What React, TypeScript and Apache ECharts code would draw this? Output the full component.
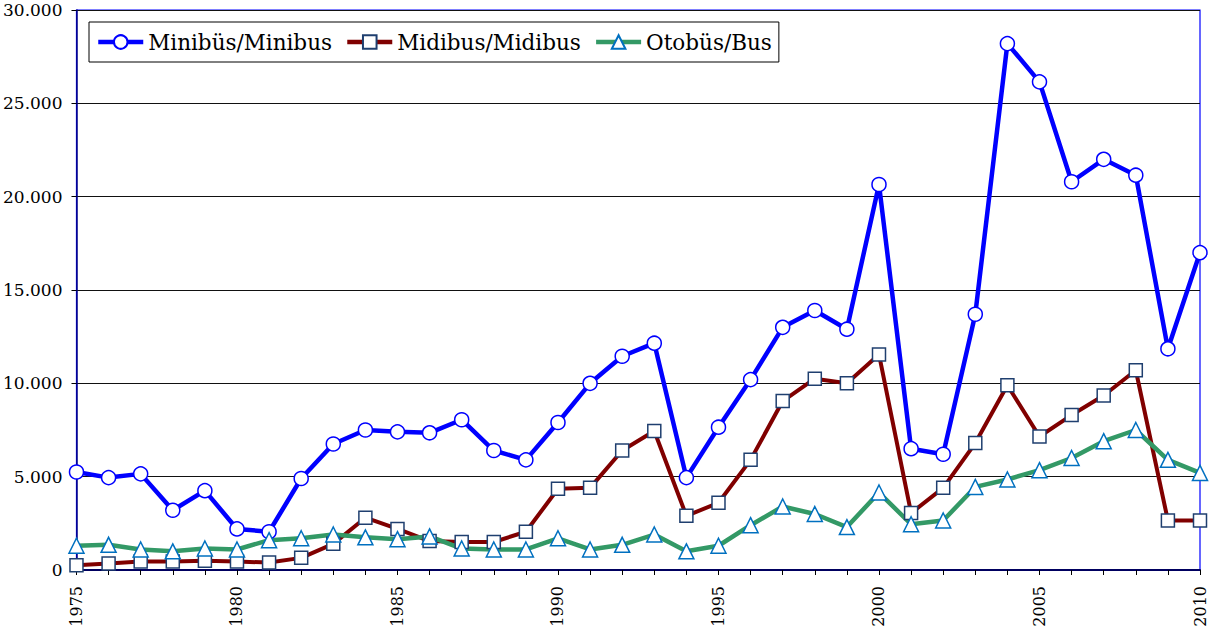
import React, { useEffect, useRef } from "react";
import * as echarts from "echarts";

const years = [
  "1975","1976","1977","1978","1979","1980","1981","1982","1983","1984",
  "1985","1986","1987","1988","1989","1990","1991","1992","1993","1994",
  "1995","1996","1997","1998","1999","2000","2001","2002","2003","2004",
  "2005","2006","2007","2008","2009","2010",
];

const minibus = [
  5250, 4950, 5150, 3200, 4250, 2200, 2050, 4900, 6750, 7500,
  7400, 7350, 8050, 6400, 5900, 7900, 10000, 11450, 12150, 4950,
  7650, 10200, 13000, 13900, 12900, 20650, 6500, 6200, 13700, 28200,
  26150, 20800, 22000, 21150, 11850, 17000,
];

const midibus = [
  250, 350, 450, 450, 500, 450, 400, 650, 1400, 2800,
  2200, 1550, 1500, 1500, 2050, 4350, 4400, 6400, 7450, 2900,
  3600, 5900, 9050, 10250, 10000, 11550, 3050, 4400, 6800, 9900,
  7150, 8300, 9350, 10700, 2650, 2650,
];

const bus = [
  1300, 1350, 1100, 1000, 1150, 1100, 1600, 1700, 1900, 1750,
  1650, 1800, 1150, 1100, 1100, 1700, 1100, 1350, 1900, 1000,
  1300, 2400, 3400, 3000, 2300, 4150, 2450, 2650, 4450, 4850,
  5350, 6000, 6900, 7500, 5900, 5200,
];

const seriesNames = ["Minibüs/Minibus", "Midibus/Midibus", "Otobüs/Bus"];

const FONT = "DejaVu Serif";

export default function App() {
  const ref = useRef<HTMLDivElement>(null);

  useEffect(() => {
    if (!ref.current) return;
    const chart = echarts.init(ref.current, undefined, { renderer: "svg" });
    chart.setOption({
      animation: false,
      backgroundColor: "#ffffff",
      textStyle: { fontFamily: FONT },
      grid: {
        left: 76,
        right: 15,
        top: 10,
        bottom: 62,
        show: true,
        borderColor: "#0000FF",
        borderWidth: 1.2,
        backgroundColor: "transparent",
      },
      legend: {
        left: 89,
        top: 22,
        orient: "horizontal",
        borderColor: "#000000",
        borderWidth: 1,
        padding: [7, 7],
        itemGap: 13,
        itemWidth: 45,
        itemHeight: 17,
        lineStyle: { width: 4.5 },
        textStyle: {
          fontFamily: FONT,
          fontSize: 21.5,
          color: "#000000",
          lineHeight: 26,
        },
        data: seriesNames,
      },
      xAxis: {
        type: "category",
        data: years,
        boundaryGap: false,
        axisLine: { show: true, lineStyle: { color: "#000060", width: 2 } },
        axisTick: {
          show: true,
          interval: 0,
          length: 5,
          inside: false,
          lineStyle: { color: "#000000", width: 1 },
        },
        axisLabel: {
          interval: 4,
          rotate: 90,
          margin: 16,
          fontFamily: FONT,
          fontSize: 16,
          color: "#000000",
        },
        splitLine: { show: false },
      },
      yAxis: {
        type: "value",
        min: 0,
        max: 30000,
        interval: 5000,
        axisLine: { show: true, lineStyle: { color: "#000080", width: 1.5 } },
        axisTick: { show: true, length: 5, lineStyle: { color: "#000000", width: 1 } },
        axisLabel: {
          margin: 14,
          fontFamily: FONT,
          fontSize: 17,
          color: "#000000",
          formatter: (v: number) => (v === 0 ? "0" : (v / 1000).toFixed(3)),
        },
        splitLine: { show: true, lineStyle: { color: "#111111", width: 1.2 } },
      },
      series: [
        {
          name: seriesNames[0],
          type: "line",
          data: minibus,
          symbol: "circle",
          symbolSize: 14,
          lineStyle: { color: "#0000FF", width: 4.5 },
          itemStyle: { color: "#ffffff", borderColor: "#0000FF", borderWidth: 1.5 },
        },
        {
          name: seriesNames[1],
          type: "line",
          data: midibus,
          symbol: "rect",
          symbolSize: 13,
          lineStyle: { color: "#800000", width: 4 },
          itemStyle: { color: "#ffffff", borderColor: "#1F3F6F", borderWidth: 1.5 },
        },
        {
          name: seriesNames[2],
          type: "line",
          data: bus,
          symbol: "triangle",
          symbolSize: 15,
          lineStyle: { color: "#339966", width: 4.5 },
          itemStyle: { color: "#ffffff", borderColor: "#0070C0", borderWidth: 1.5 },
        },
      ],
    });
    return () => chart.dispose();
  }, []);

  return (
    <div
      ref={ref}
      style={{ position: "fixed", left: 0, top: 0, width: 1215, height: 632, background: "#fff" }}
    />
  );
}
